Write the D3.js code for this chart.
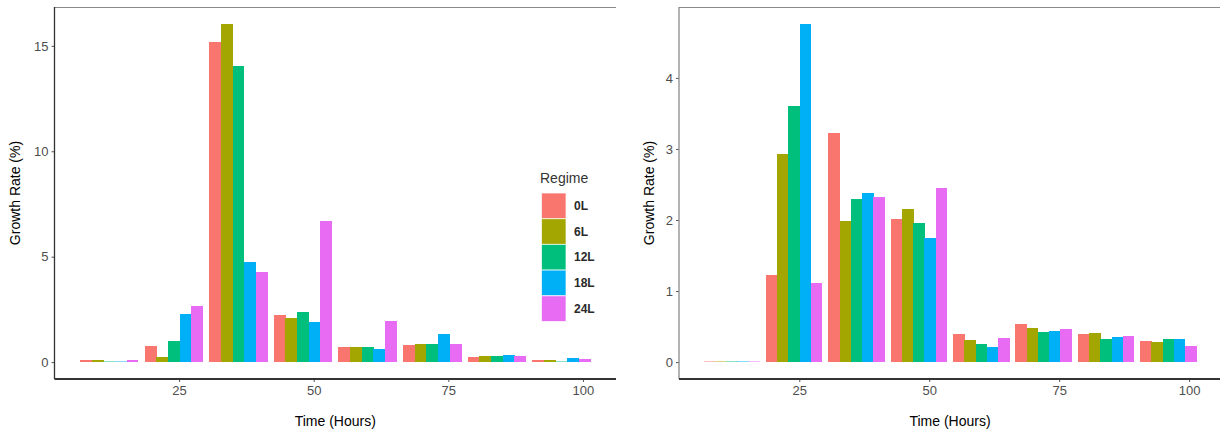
<!DOCTYPE html>
<html>
<head>
<meta charset="utf-8">
<script src="https://cdn.jsdelivr.net/npm/d3@7"></script>
<style>
  html, body { margin: 0; padding: 0; background: #fff; }
  svg { display: block; font-family: "Liberation Sans", Arial, sans-serif; }
</style>
</head>
<body>
<svg id="chart" width="1220" height="432"></svg>
<script>
// ---- data ----
const times = [12, 24, 36, 48, 60, 72, 84, 96];
const regimes = ["0L", "6L", "12L", "18L", "24L"];
const colors = ["#F8766D", "#A3A500", "#00BF7D", "#00B0F6", "#E76BF3"];

// Left panel values (one array per regime, ordered by time)
const left0L  = [0.09, 0.76, 15.19, 2.21, 0.73, 0.79, 0.24, 0.08];
const left6L  = [0.09, 0.24, 16.04, 2.07, 0.73, 0.84, 0.27, 0.11];
const left12L = [0.05, 0.98, 14.05, 2.38, 0.73, 0.84, 0.30, 0.06];
const left18L = [0.03, 2.27, 4.74, 1.89, 0.62, 1.33, 0.35, 0.20];
const left24L = [0.08, 2.64, 4.28, 6.68, 1.93, 0.87, 0.30, 0.17];

// Right panel values
const right0L  = [0.01, 1.23, 3.22, 2.02, 0.39, 0.53, 0.39, 0.30];
const right6L  = [0.01, 2.93, 1.98, 2.16, 0.31, 0.48, 0.41, 0.28];
const right12L = [0.01, 3.60, 2.29, 1.96, 0.26, 0.42, 0.33, 0.33];
const right18L = [0.01, 4.76, 2.38, 1.75, 0.21, 0.44, 0.35, 0.32];
const right24L = [0.01, 1.12, 2.32, 2.45, 0.34, 0.46, 0.37, 0.22];

const xTicks = [25, 50, 75, 100];
const leftYTicks = [0, 5, 10, 15];
const rightYTicks = [0, 1, 2, 3, 4];

const xTitle = "Time (Hours)";
const yTitle = "Growth Rate (%)";
const legendTitle = "Regime";

// ---- layout ----
const svg = d3.select("#chart");

const panels = [
  { series: [left0L, left6L, left12L, left18L, left24L], yTicks: leftYTicks,
    x0: 54.5, x1: 616, y0: 7, y1: 379, leftLine: "#333", titleX: 15, legend: true },
  { series: [right0L, right6L, right12L, right18L, right24L], yTicks: rightYTicks,
    x0: 679, x1: 1221, y0: 7, y1: 379, leftLine: "#8a8a8a", titleX: 649, legend: false }
];

const barGroupWidth = 10.8; // 0.9 * spacing of 12 hours
const barW = barGroupWidth / regimes.length;

panels.forEach(p => {
  const g = svg.append("g");
  const xmin = times[0] - barGroupWidth / 2, xmax = times[times.length - 1] + barGroupWidth / 2;
  const xpad = (xmax - xmin) * 0.05;
  const x = d3.scaleLinear().domain([xmin - xpad, xmax + xpad]).range([p.x0, p.x1]);

  const maxV = d3.max(p.series, s => d3.max(s));
  const ypad = maxV * 0.05;
  const y = d3.scaleLinear().domain([-ypad, maxV + ypad]).range([p.y1, p.y0]);

  // bars
  p.series.forEach((vals, i) => {
    g.append("g").attr("shape-rendering", "crispEdges")
      .selectAll("rect").data(vals.map((v, k) => ({ t: times[k], v })))
      .join("rect")
      .attr("x", d => x(d.t - barGroupWidth / 2 + i * barW))
      .attr("width", d => x(d.t - barGroupWidth / 2 + (i + 1) * barW) - x(d.t - barGroupWidth / 2 + i * barW) + 0.3)
      .attr("y", d => y(d.v))
      .attr("height", d => Math.max(0.8, y(0) - y(d.v)))
      .attr("fill", colors[i])
      .attr("fill-opacity", d => (y(0) - y(d.v)) < 1.5 ? 0.45 : 1);
  });

  // top border
  g.append("line").attr("x1", p.x0).attr("x2", p.x1).attr("y1", p.y0 + 0.5).attr("y2", p.y0 + 0.5)
    .attr("stroke", "#8a8a8a").attr("stroke-width", 1.2);

  // y axis
  const yAxis = g.append("g").attr("transform", `translate(${p.x0},0)`)
    .call(d3.axisLeft(y).tickValues(p.yTicks).tickSize(3).tickPadding(3).tickFormat(d3.format("d")));
  yAxis.select(".domain").remove();
  yAxis.selectAll(".tick line").attr("stroke", "#555");
  yAxis.selectAll(".tick text").attr("fill", "#4d4d4d").style("font-size", "13px");
  g.append("line").attr("x1", p.x0).attr("x2", p.x0).attr("y1", p.y0).attr("y2", p.y1)
    .attr("stroke", p.leftLine).attr("stroke-width", 1.3);

  // x axis
  const xAxis = g.append("g").attr("transform", `translate(0,${p.y1})`)
    .call(d3.axisBottom(x).tickValues(xTicks).tickSize(3).tickPadding(4).tickFormat(d3.format("d")));
  xAxis.select(".domain").remove();
  xAxis.selectAll(".tick line").attr("stroke", "#555");
  xAxis.selectAll(".tick text").attr("fill", "#4d4d4d").style("font-size", "13px");
  g.append("line").attr("x1", p.x0).attr("x2", p.x1).attr("y1", p.y1).attr("y2", p.y1)
    .attr("stroke", "#333").attr("stroke-width", 2);

  // titles
  g.append("text").attr("x", (p.x0 + p.x1) / 2).attr("y", 426)
    .attr("text-anchor", "middle").attr("fill", "#000").style("font-size", "14px").text(xTitle);
  g.append("text").attr("transform", `translate(${p.titleX + 5},${(p.y0 + p.y1) / 2}) rotate(-90)`)
    .attr("text-anchor", "middle").attr("fill", "#000").style("font-size", "14px").text(yTitle);

  // legend
  if (p.legend) {
    const lg = g.append("g").attr("transform", "translate(541,166)");
    lg.append("text").attr("x", -1).attr("y", 17).attr("fill", "#333")
      .style("font-size", "14px").text(legendTitle);
    regimes.forEach((r, i) => {
      lg.append("rect").attr("x", 0.5).attr("y", 27 + i * 25.7).attr("width", 24.5).attr("height", 25.7)
        .attr("fill", colors[i]).attr("stroke", "rgba(255,255,255,0.7)").attr("stroke-width", 1);
      lg.append("text").attr("x", 33).attr("y", 27 + i * 25.7 + 17).attr("fill", "#2a2a2a")
        .style("font-size", "12px").style("font-weight", "bold").text(r);
    });
  }
});
</script>
</body>
</html>
